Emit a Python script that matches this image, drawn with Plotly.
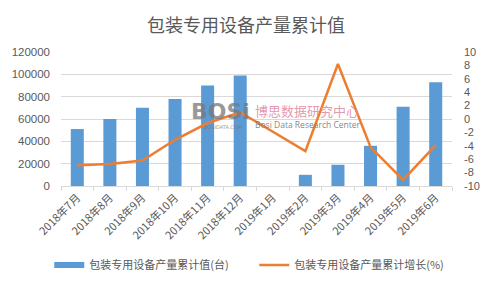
import plotly.graph_objects as go

categories = ["2018年7月", "2018年8月", "2018年9月", "2018年10月", "2018年11月", "2018年12月",
              "2019年1月", "2019年2月", "2019年3月", "2019年4月", "2019年5月", "2019年6月"]
production = [51000, 60000, 70000, 78000, 90000, 99000, None, 10000, 19000, 36000, 71000, 93000]
growth = [-6.9, -6.7, -6.2, -3.1, -0.6, 1.0, None, -4.8, 8.2, -4.2, -9.1, -3.9]
left_ticks = [0, 20000, 40000, 60000, 80000, 100000, 120000]
right_ticks = [-10, -8, -6, -4, -2, 0, 2, 4, 6, 8, 10]

FONT = "Noto Sans CJK SC"
NUMFONT = "Liberation Sans"
GREY = "#595959"
BLUE = "#5b9bd5"
ORANGE = "#ed7d31"
xs = list(range(len(categories)))

fig = go.Figure()
fig.add_trace(go.Bar(
    x=xs, y=production, name="包装专用设备产量累计值(台)",
    marker=dict(color=BLUE, line=dict(width=0)), width=0.4, yaxis="y", showlegend=False,
))
# legend stand-in for the bar series (wide flat swatch as in the reference)
fig.add_trace(go.Scatter(
    x=[None], y=[None], name="包装专用设备产量累计值(台)", mode="lines",
    line=dict(color=BLUE, width=6), yaxis="y",
))
fig.add_trace(go.Scatter(
    x=xs, y=growth, name="包装专用设备产量累计增长(%)", mode="lines",
    line=dict(color=ORANGE, width=2.5), connectgaps=True, yaxis="y2",
))

fig.update_layout(
    width=492, height=291,
    margin=dict(l=57, r=38, t=52, b=104),
    paper_bgcolor="white", plot_bgcolor="white",
    font=dict(family=FONT, color=GREY, size=11),
    title=dict(text="包装专用设备产量累计值", x=0.5, xanchor="center", y=0.912, yanchor="middle",
               font=dict(size=18, color=GREY, family=FONT)),
    xaxis=dict(
        range=[-0.5, 11.5], tickmode="array", tickvals=xs, ticktext=categories,
        tickangle=-45, ticks="", showgrid=False, zeroline=False,
        showline=True, linecolor="#d9d9d9", linewidth=1,
        tickfont=dict(size=11, color=GREY),
        minor=dict(ticks="outside", tick0=-0.5, dtick=1, ticklen=4, tickcolor="#d9d9d9", showgrid=False),
    ),
    yaxis=dict(
        range=[0, 120000], tickmode="array", tickvals=left_ticks,
        ticktext=[str(v) for v in left_ticks],
        showgrid=True, gridcolor="#d9d9d9", gridwidth=1, zeroline=False,
        tickfont=dict(size=11.5, color=GREY, family=NUMFONT), ticks="", ticklabelstandoff=10,
    ),
    yaxis2=dict(
        range=[-10, 10], tickmode="array", tickvals=right_ticks,
        ticktext=[str(v) for v in right_ticks], overlaying="y", side="right",
        showgrid=False, zeroline=False, tickfont=dict(size=11, color=GREY, family=NUMFONT), ticks="",
        ticklabelstandoff=11,
    ),
    legend=dict(orientation="h", x=-0.03, xanchor="left", y=-0.59, yanchor="middle",
                font=dict(size=11, color=GREY, family=FONT), traceorder="normal",
                itemwidth=30, entrywidth=160, entrywidthmode="pixels",
                bgcolor="rgba(0,0,0,0)"),
)

# watermark
fig.add_annotation(xref="paper", yref="paper", x=(187 - 57) / 397, y=(187 - 111.5) / 135,
                   xanchor="left", yanchor="middle", text="<b>BOSi</b>", showarrow=False,
                   font=dict(size=22, color="rgba(120,120,120,0.75)", family="DejaVu Sans"))
fig.add_annotation(xref="paper", yref="paper", x=(200 - 57) / 397, y=(187 - 128) / 135,
                   xanchor="left", yanchor="middle", text="BOSIDATA.COM", showarrow=False,
                   font=dict(size=5, color="rgba(120,120,120,0.8)", family="DejaVu Sans"))
fig.add_annotation(xref="paper", yref="paper", x=(252 - 57) / 397, y=(187 - 110.5) / 135,
                   xanchor="left", yanchor="middle", text="博思数据研究中心", showarrow=False,
                   font=dict(size=13, color="rgba(225,140,165,0.9)", family=FONT))
fig.add_annotation(xref="paper", yref="paper", x=(252 - 57) / 397, y=(187 - 125) / 135,
                   xanchor="left", yanchor="middle", text="Bosi Data Research Center", showarrow=False,
                   font=dict(size=8.5, color="rgba(110,110,110,0.85)", family="Open Sans"))

fig.write_html("out.html")
